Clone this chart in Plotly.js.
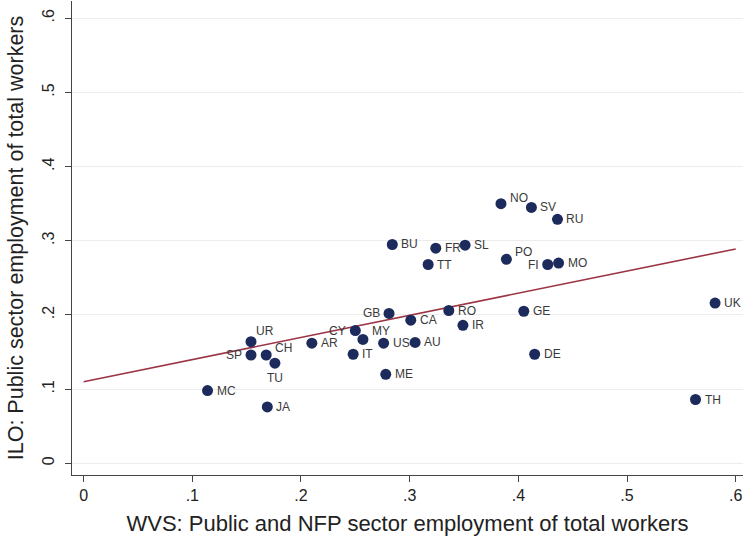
<!DOCTYPE html>
<html>
<head>
<meta charset="utf-8">
<script src="https://cdn.plot.ly/plotly-3.0.1.min.js"></script>
<style>html,body{margin:0;padding:0;background:#fff;}#chart{width:743px;height:544px;}</style>
</head>
<body>
<div id="chart"></div>
<script>
// Country codes
const countries = ["NO","SV","RU","BU","FR","SL","TT","PO","FI","MO","UK","GB","CA","RO","IR","GE","DE","UR","SP","CH","TU","AR","CY","MY","IT","US","AU","ME","MC","JA","TH"];
// WVS: Public and NFP sector employment share
const wvs = [0.384,0.412,0.436,0.284,0.324,0.351,0.317,0.389,0.427,0.437,0.581,0.281,0.301,0.336,0.349,0.405,0.415,0.154,0.154,0.168,0.176,0.210,0.250,0.257,0.248,0.276,0.305,0.278,0.114,0.169,0.563];
// ILO: Public sector employment share
const ilo = [0.350,0.345,0.329,0.295,0.290,0.294,0.268,0.275,0.268,0.270,0.216,0.202,0.193,0.206,0.186,0.205,0.147,0.164,0.146,0.146,0.135,0.162,0.179,0.167,0.147,0.162,0.163,0.120,0.098,0.076,0.086];
// Linear fit endpoints
const fitX = [0, 0.6];
const fitY = [0.110, 0.289];
// Axis ticks
const xTickVals = [0,0.1,0.2,0.3,0.4,0.5,0.6];
const xTickText = ["0",".1",".2",".3",".4",".5",".6"];
const yTickVals = [0,0.1,0.2,0.3,0.4,0.5,0.6];
const yTickText = ["0",".1",".2",".3",".4",".5",".6"];

// label placement style: [xanchor, xshift, yshift]
const labelStyle = {
  NO:["left",8,6], PO:["left",8,7], UR:["left",4,11], CH:["left",8,7], MY:["left",8,8],
  FI:["right",-8,0], GB:["right",-8,0], SP:["right",-8,0], CY:["right",-8,0], TU:["center",0,-15]
};
const annotations = countries.map((c, i) => {
  const s = labelStyle[c] || ["left",8,0];
  return {x: wvs[i], y: ilo[i], xref:"x", yref:"y", text: c, showarrow:false,
    xanchor: s[0], yanchor:"middle", xshift: s[1], yshift: s[2], borderpad:0,
    font:{family:"Liberation Sans, Arial, sans-serif", size:12, color:"#3a3a3a"}};
});

const traces = [
  {x: fitX, y: fitY, type:"scatter", mode:"lines", line:{color:"#9b3444", width:1.6}, hoverinfo:"skip"},
  {x: wvs, y: ilo, type:"scatter", mode:"markers", cliponaxis:false,
   marker:{size:11, color:"#1c2b5c"}}
];

const layout = {
  width:743, height:544, showlegend:false,
  paper_bgcolor:"#fff", plot_bgcolor:"#fff",
  margin:{l:72, r:0, t:1, b:69},
  font:{family:"Liberation Sans, Arial, sans-serif", color:"#222"},
  annotations: annotations,
  xaxis:{range:[-0.0107,0.6067], tickvals:xTickVals, ticktext:xTickText, ticklabeloverflow:"allow",
    showgrid:false, zeroline:false, showline:true, linecolor:"#444", linewidth:1.2,
    ticks:"outside", ticklen:6, tickcolor:"#444", tickfont:{size:16, color:"#222"},
    title:{text:"WVS: Public and NFP sector employment of total workers", font:{size:22, color:"#222"}, standoff:12}},
  yaxis:{range:[-0.0158,0.6233], tickvals:yTickVals, ticktext:yTickText, tickangle:-90, ticklabelstandoff:4,
    showgrid:true, gridcolor:"#ececec", gridwidth:1, zeroline:false, showline:true, linecolor:"#444", linewidth:1.2,
    ticks:"outside", ticklen:6, tickcolor:"#444", tickfont:{size:16, color:"#222"},
    title:{text:"ILO: Public sector employment of total workers", font:{size:21.5, color:"#222"}, standoff:10}}
};
Plotly.newPlot("chart", traces, layout, {displayModeBar:false, staticPlot:true});
</script>
</body>
</html>
